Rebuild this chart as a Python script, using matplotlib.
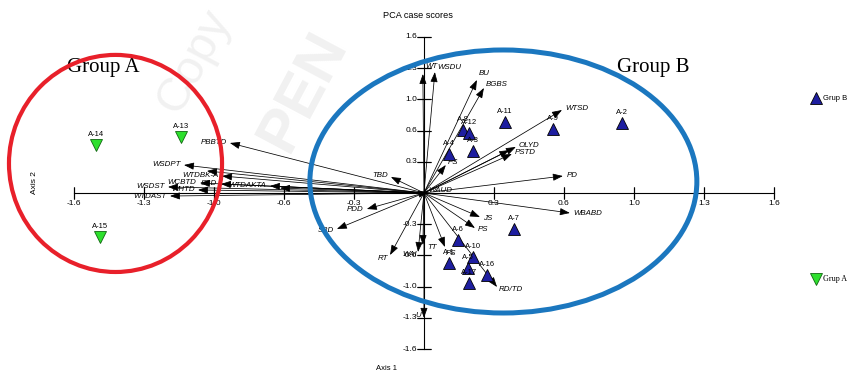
import numpy as np
import matplotlib
matplotlib.use("Agg")
import matplotlib.pyplot as plt
from matplotlib.patches import Ellipse

# ---------------- data ----------------
grpB_names = ["A-2", "A-9", "A-11", "A-8", "A-12", "A-3", "A-4", "A-7", "A-6",
              "A-10", "A-1", "A-5", "A-16", "A-17"]
grpB_x = [0.905, 0.590, 0.370, 0.178, 0.206, 0.224, 0.114, 0.411, 0.155,
          0.224, 0.114, 0.201, 0.288, 0.206]
grpB_y = [0.718, 0.656, 0.728, 0.646, 0.615, 0.431, 0.400, -0.369, -0.482,
          -0.656, -0.718, -0.769, -0.841, -0.923]

grpA_names = ["A-14", "A-13", "A-15"]
grpA_x = [-1.499, -1.111, -1.481]
grpA_y = [0.492, 0.574, -0.451]

vec_names = ["PBBTD", "WSDPT", "", "WTDBK-A", "WCBTD", "SBD", "WTDAKTA", "",
             "WSDST", "WHTD", "WTDAST", "TBD", "PDD", "SBD", "RT", "WAI", "TT",
             "U", "PS", "JS", "PS", "WBABD", "RD/TD", "PD", "PS", "PSTD",
             "OLYD", "", "WTSD", "BU", "BGBS", "WT", "WSDU", "WAUD"]
vec_x = [-0.887, -1.097, -0.992, -0.923, -1.024, -0.928, -0.704, -0.658,
         -1.170, -1.033, -1.161, -0.151, -0.261, -0.398, -0.155, -0.027, -0.005,
         0.000, 0.096, 0.256, 0.233, 0.667, 0.334, 0.635, 0.100, 0.402,
         0.420, 0.390, 0.631, 0.242, 0.274, -0.005, 0.050, 0.020]
vec_y = [0.513, 0.287, 0.226, 0.174, 0.103, 0.092, 0.072, 0.051,
         0.062, 0.031, -0.031, 0.164, -0.164, -0.369, -0.636, -0.605, -0.533,
         -1.280, -0.554, -0.246, -0.359, -0.205, -0.964, 0.174, 0.287, 0.400,
         0.472, 0.440, 0.851, 1.159, 1.077, 1.220, 1.240, 0.010]

axis_ticks = [-1.6, -1.28, -0.96, -0.64, -0.32, 0.32, 0.64, 0.96, 1.28, 1.6]
tick_labels = [f"{v:.1f}" for v in axis_ticks]

# ---------------- figure ----------------
fig = plt.figure(figsize=(8.49, 3.74), dpi=100)
ax = fig.add_axes([0, 0, 1, 1])
ax.set_xlim(-1.938, 1.943)
ax.set_ylim(-1.856, 1.979)
ax.axis("off")

# faint watermark
ax.text(-1.05, 1.35, "Copy", rotation=62, fontsize=34, color="#f1f1f1",
        ha="center", va="center", family="Liberation Sans", zorder=0)
ax.text(-0.55, 1.05, "PEN", rotation=62, fontsize=44, color="#f1f1f1",
        fontweight="bold", ha="center", va="center", family="Liberation Sans", zorder=0)

lab_font = dict(family="Liberation Sans", fontsize=5.7, fontstyle="italic")

# axes lines through origin
ax.plot([axis_ticks[0], axis_ticks[-1]], [0, 0], color="black", lw=0.8, zorder=2)
ax.plot([0, 0], [axis_ticks[0], axis_ticks[-1]], color="black", lw=0.8, zorder=2)
for v, lab in zip(axis_ticks, tick_labels):
    ax.annotate("", xy=(v, 0), xytext=(0, 0))
    ax.plot([v, v], [0, 0], marker="|", markersize=8, color="black", mew=0.8, zorder=2)
    ax.plot([0, 0], [v, v], marker="_", markersize=10, color="black", mew=0.8, zorder=2)
    ax.annotate(lab, (v, 0), xytext=(0, -5), textcoords="offset points",
                ha="center", va="top", fontsize=6, family="Liberation Sans")
    ax.annotate(lab, (0, v), xytext=(-5, 0), textcoords="offset points",
                ha="right", va="center", fontsize=6, family="Liberation Sans")

# vectors
overrides = {
    "WAI": ("right", "center", (-1, -2)),
    "TT": ("left", "center", (3, -2)),
    "U": ("right", "center", (-2, 2)),
    "WT": ("left", "bottom", (2, 3)),
    "WSDU": ("left", "bottom", (2, 1)),
    "WAUD": ("left", "center", (0, 1)),
}
for name, x, y in zip(vec_names, vec_x, vec_y):
    ax.annotate("", xy=(x, y), xytext=(0, 0),
                arrowprops=dict(arrowstyle="-|>,head_length=0.55,head_width=0.2",
                                color="black", lw=0.55, shrinkA=0, shrinkB=0,
                                mutation_scale=11), zorder=3)
    if not name:
        continue
    p0 = ax.transData.transform((0, 0))
    p1 = ax.transData.transform((x, y))
    d = p1 - p0
    u = d / (np.hypot(*d) + 1e-9)
    if name in overrides:
        ha, va, off = overrides[name]
    else:
        ha = "left" if u[0] > 0.25 else ("right" if u[0] < -0.25 else "center")
        va = "bottom" if u[1] > 0.9 else ("top" if u[1] < -0.9 else "center")
        off = (2.5 * u[0], 2.5 * u[1])
    ax.annotate(name, (x, y), xytext=off, textcoords="offset points",
                ha=ha, va=va, zorder=4, **lab_font)

# points
ax.plot(grpB_x, grpB_y, linestyle="none", marker="^", markersize=8,
        markerfacecolor="#1e1ea0", markeredgecolor="black", mew=0.6, zorder=5)
ax.plot(grpA_x, grpA_y, linestyle="none", marker="v", markersize=8,
        markerfacecolor="#2de02d", markeredgecolor="#116611", mew=0.6, zorder=5)
for n, x, y in zip(grpB_names + grpA_names, grpB_x + grpA_x, grpB_y + grpA_y):
    ax.annotate(n, (x, y), xytext=(0, 5), textcoords="offset points",
                ha="center", va="bottom", fontsize=5.5, family="Liberation Sans",
                zorder=6)

# group ellipses
ax.add_patch(Ellipse((-1.41, 0.303), 0.974, 2.226, fill=False,
                     edgecolor="#e8202a", lw=3.0, zorder=7))
ax.add_patch(Ellipse((0.363, 0.118), 1.769, 2.697, fill=False,
                     edgecolor="#1b77bf", lw=3.6, zorder=7))

# group titles
ax.text(-1.467, 1.285, "Group A", fontsize=15, family="Liberation Serif",
        ha="center", va="center")
ax.text(1.047, 1.285, "Group B", fontsize=15, family="Liberation Serif",
        ha="center", va="center")

# titles
fig.text(418 / 849, 1 - 15 / 374, "PCA case scores", ha="center", va="center",
         fontsize=6.6, family="Liberation Sans")
fig.text(386 / 849, 1 - 368 / 374, "Axis 1", ha="center", va="center",
         fontsize=5.5, family="Liberation Sans")
fig.text(35 / 849, 1 - 183 / 374, "Axis 2", ha="center", va="center",
         rotation=90, fontsize=6, family="Liberation Sans")

# legend
fig.lines.append(plt.Line2D([816 / 849], [1 - 98 / 374], transform=fig.transFigure,
                            marker="^", markersize=8, markerfacecolor="#1e1ea0",
                            markeredgecolor="black", mew=0.6, linestyle="none"))
fig.text(823 / 849, 1 - 98 / 374, "Grup B", ha="left", va="center",
         fontsize=5.5, family="Liberation Sans")
fig.lines.append(plt.Line2D([816 / 849], [1 - 279 / 374], transform=fig.transFigure,
                            marker="v", markersize=8, markerfacecolor="#2de02d",
                            markeredgecolor="#116611", mew=0.6, linestyle="none"))
fig.text(823 / 849, 1 - 279 / 374, "Grup A", ha="left", va="center",
         fontsize=5.8, family="Liberation Serif")

fig.savefig("out.png", dpi=100)
